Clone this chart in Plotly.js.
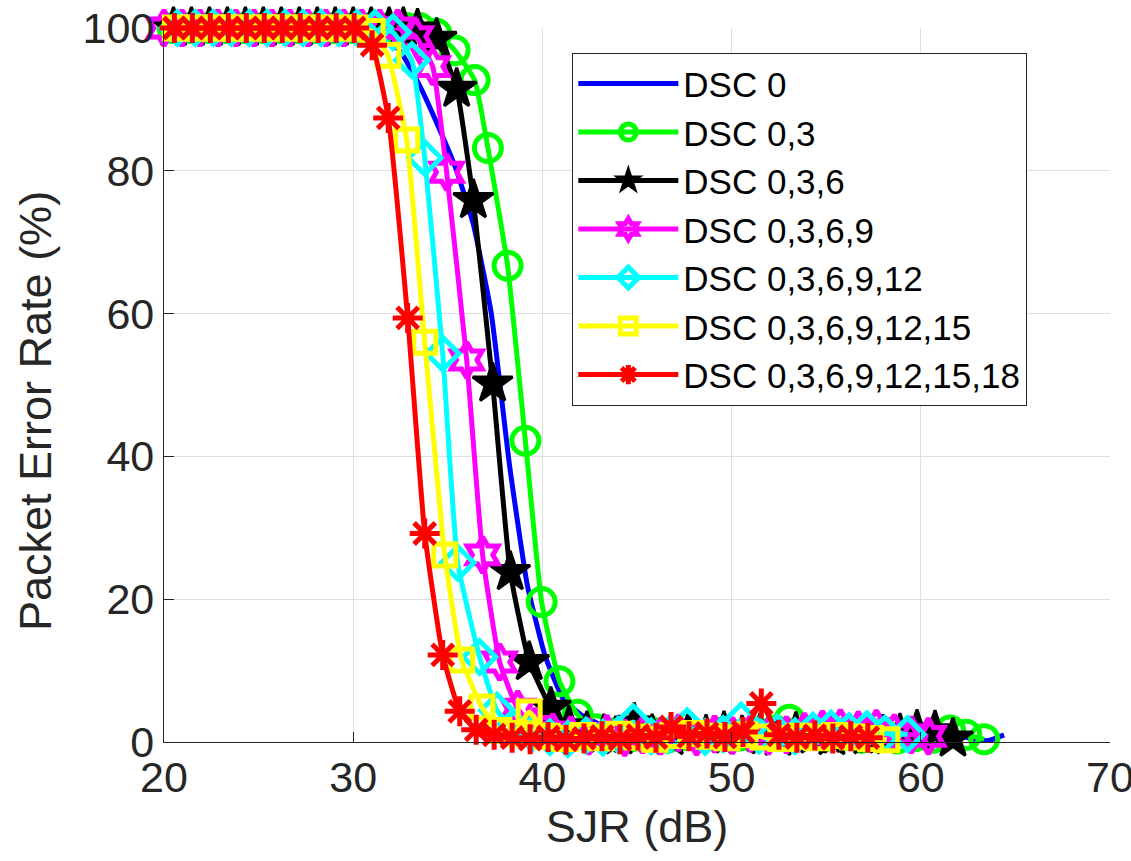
<!DOCTYPE html>
<html>
<head>
<meta charset="utf-8">
<script src="https://cdn.plot.ly/plotly-3.0.1.min.js"></script>
<style>html,body{margin:0;padding:0;background:#fff;}#chart{width:1131px;height:861px;}</style>
</head>
<body>
<div id="chart"></div>
<script>
// ---- Data ----
const seriesNames = ["DSC 0", "DSC 0,3", "DSC 0,3,6", "DSC 0,3,6,9", "DSC 0,3,6,9,12", "DSC 0,3,6,9,12,15", "DSC 0,3,6,9,12,15,18"];

const blueX = [20.4, 21.35, 22.3, 23.25, 24.2, 25.15, 26.1, 27.05, 28.0, 28.95, 29.9, 30.85,
  31.6, 32.55, 33.5, 34.45, 35.4, 36.35, 37.3, 38.25, 39.2, 40.15, 41.1, 42.05, 43.0,
  43.95, 44.9, 45.85, 46.8, 47.75, 48.7, 49.65, 50.6, 51.55, 52.5,
  53.45, 54.4, 55.35, 56.3, 57.25, 58.2, 59.15, 60.1, 61.05, 62.0,
  62.95, 63.6, 64.4];
const blueY = [100, 100, 100, 100, 100, 100, 100, 100, 100, 100, 100, 100,
  99, 96.5, 92, 86.5, 80.5, 72.5, 60, 39, 22, 12, 6, 3.8, 2.5,
  1.6, 1.2, 0.9, 1.3, 0.8, 1.1, 0.7, 1.0, 1.4, 0.9,
  1.1, 0.8, 1.2, 0.9, 0.7, 1.0, 0.8, 1.1, 0.6, 0.9,
  0.3, 0.2, 1.0];

const greenX = [20.45, 21.4, 22.35, 23.3, 24.25, 25.2, 26.15, 27.1, 28.05, 29.0, 29.95, 30.9, 31.85, 32.8, 33.5, 34.4,
  35.36, 36.42, 37.12, 38.16, 39.1, 39.96, 40.9, 41.86, 42.8,
  43.75, 44.7, 45.65, 46.6, 47.55, 48.5, 49.45, 50.4, 51.35, 52.3,
  53.05,
  54.0, 54.95, 55.9, 56.85, 57.8, 58.75, 59.7, 60.65,
  61.55, 62.4, 63.35];
const greenY = [100, 100, 100, 100, 100, 100, 100, 100, 100, 100, 100, 100, 100, 100, 100, 99.2,
  96.9, 92.7, 83.2, 66.7, 42.2, 19.6, 8.5, 3.8, 1.8,
  1.2, 0.8, 1.5, 0.6, 1.0, 0.7, 1.3, 0.9, 1.1, 1.6,
  3.1,
  1.2, 0.8, 1.0, 0.6, 0.9, 0.5, 0.8, 0.6,
  1.6, 1.0, 0.4];

const blackX = [20.5, 21.45, 22.4, 23.35, 24.3, 25.25, 26.2, 27.15, 28.1, 29.05, 30.0, 30.95, 31.9, 32.65, 33.4,
  34.41, 35.47, 36.35, 37.37, 38.3, 39.3, 40.45, 41.4, 42.35,
  43.25, 44.05, 44.85,
  45.8, 46.75, 47.7, 48.65, 49.6, 50.55, 51.5, 52.45, 53.4, 54.35, 55.3, 56.25, 57.15,
  58.0, 58.9, 59.8, 60.75, 61.7];
const blackY = [100, 100, 100, 100, 100, 100, 100, 100, 100, 100, 100, 100, 100, 100, 99.8,
  98.5, 91.5, 75.9, 50.2, 23.8, 11.2, 4.8, 2.2, 1.4,
  1.0, 0.8, 2.6,
  1.0, 0.7, 1.2, 0.9, 1.4, 0.8, 1.1, 0.6, 1.3, 0.9, 0.7, 1.0, 0.8,
  0.9, 1.1, 1.6, 1.5, 0.5];

const magentaX = [20.0, 20.95, 21.9, 22.85, 23.8, 24.75, 25.7, 26.65, 27.6, 28.55, 29.5, 30.45, 31.4, 32.35, 33.3,
  34.2, 34.94, 36.0, 36.84, 37.74, 38.7, 39.6, 40.55, 41.5, 42.45,
  43.4, 44.35, 45.3, 46.25, 47.2, 48.15, 49.1, 50.05, 51.0, 51.95, 52.9, 53.85, 54.8, 55.75, 56.7, 57.65,
  58.6, 59.5, 60.4];
const magentaY = [100, 100, 100, 100, 100, 100, 100, 100, 100, 100, 100, 100, 100, 100, 98.8,
  94.6, 79.8, 53.5, 26.2, 11.2, 4.6, 2.2, 1.4, 1.0, 0.8,
  1.2, 0.6, 1.0, 0.8, 1.3, 0.7, 1.1, 0.9, 1.2, 0.8, 1.0, 1.5, 1.8, 2.0, 1.7, 1.9,
  1.3, 1.0, 0.8];

const cyanX = [20.7, 21.65, 22.6, 23.55, 24.5, 25.45, 26.4, 27.35, 28.3, 29.25, 30.2, 31.15, 32.1,
  33.1, 33.78, 34.73, 35.52, 36.68, 37.6, 38.5, 39.45, 40.4, 41.35, 42.3,
  43.2, 44.0, 44.8,
  45.75, 46.7, 47.65, 48.6, 49.55, 50.5, 51.45, 52.4, 53.35, 54.3, 55.25, 56.2, 57.15, 58.1, 59.3];
const cyanY = [100, 100, 100, 100, 100, 100, 100, 100, 100, 100, 100, 100, 99.4,
  95.5, 81.8, 54.4, 25.1, 11.9, 4.4, 2.0, 1.2, 0.7, 0.4, 0.9,
  0.6, 1.0, 2.8,
  0.8, 1.0, 2.2, 0.7, 1.1, 3.0, 0.9, 1.3, 0.8, 1.6, 1.9, 1.5, 1.8, 1.2, 1.1];

const yellowX = [20.6, 21.55, 22.5, 23.45, 24.4, 25.35, 26.3, 27.25, 28.2, 29.15, 30.1, 31.0,
  31.83, 32.83, 33.78, 34.84, 35.73, 36.8, 37.7, 38.5, 39.3,
  40.25, 41.2, 42.15, 43.1, 44.05, 45.0, 45.95, 46.9, 47.85, 48.8, 49.75, 50.7, 51.65, 52.6, 53.55, 54.5, 55.45, 56.4, 57.35, 58.2];
const yellowY = [100, 100, 100, 100, 100, 100, 100, 100, 100, 100, 100, 99.5,
  96.2, 84.3, 56.0, 26.2, 11.5, 4.9, 1.6, 1.2, 4.2,
  0.8, 0.5, 0.9, 0.6, 1.1, 0.7, 0.4, 0.9, 1.2, 0.8, 0.6, 1.0, 0.7, 0.5, 0.8, 0.6, 0.9, 0.7, 0.5, 0.3];

const redX = [20.55, 21.5, 22.45, 23.4, 24.35, 25.3, 26.25, 27.2, 28.15, 29.1, 30.05, 31.0,
  31.85, 32.88, 33.78, 34.73, 35.63, 36.5,
  37.45, 38.4, 39.35, 40.3, 41.25, 42.2, 43.15, 44.1, 45.05, 46.0,
  46.8, 47.75, 48.7, 49.65, 50.6, 51.57,
  52.5, 53.45, 54.4, 55.35, 56.3, 57.2];
const redY = [100, 100, 100, 100, 100, 100, 100, 100, 100, 100, 100, 97.6,
  87.4, 59.4, 29.2, 12.2, 4.3, 1.7,
  1.0, 0.6, 0.4, 0.7, 0.3, 0.5, 0.8, 0.4, 0.9, 0.6,
  2.1, 0.8, 1.2, 0.7, 1.4, 5.4,
  1.0, 0.6, 0.9, 0.5, 0.8, 0.6];

const xTicks = [20, 30, 40, 50, 60, 70];
const yTicks = [0, 20, 40, 60, 80, 100];
const xTitle = "SJR (dB)";
const yTitle = "Packet Error Rate (%)";

// ---- Styles ----
const FONT = "Liberation Sans, Arial, Helvetica, sans-serif";
const LW = 5;
const styles = [
  {color: "#0000ff", mode: "lines"},
  {color: "#00ff00", mode: "lines+markers", symbol: "circle-open", size: 27},
  {color: "#000000", mode: "lines+markers", symbol: "star", size: 30, fill: true},
  {color: "#ff00ff", mode: "lines+markers", symbol: "hexagram-open", size: 27},
  {color: "#00ffff", mode: "lines+markers", symbol: "diamond-open", size: 25},
  {color: "#ffff00", mode: "lines+markers", symbol: "square-open", size: 22},
  {color: "#ff0000", mode: "lines+markers", symbol: "asterisk-open", size: 25}
];
const xs = [blueX, greenX, blackX, magentaX, cyanX, yellowX, redX];
const ys = [blueY, greenY, blackY, magentaY, cyanY, yellowY, redY];

const traces = seriesNames.map((name, i) => {
  const s = styles[i];
  const t = {
    type: "scatter",
    x: xs[i], y: ys[i], name: name, mode: s.mode,
    line: {color: s.color, width: LW, shape: "spline", smoothing: 0.4},
    cliponaxis: false
  };
  if (s.symbol) {
    t.marker = {symbol: s.symbol, size: s.size, color: s.color,
      line: {color: s.color, width: s.fill ? 3 : LW}};
  }
  return t;
});

const axisCommon = {
  ticks: "inside", ticklen: 10, tickwidth: 1, tickcolor: "#262626",
  showline: true, linecolor: "#262626", linewidth: 1.3,
  showgrid: true, gridcolor: "#dfdfdf", gridwidth: 1,
  zeroline: false, mirror: false,
  ticklabeloverflow: "allow",
  tickfont: {family: FONT, size: 43, color: "#262626"}
};

const layout = {
  width: 1131, height: 861,
  margin: {l: 164, r: 21, t: 28, b: 119},
  paper_bgcolor: "#ffffff", plot_bgcolor: "#ffffff",
  showlegend: true,
  xaxis: Object.assign({}, axisCommon, {
    range: [20, 70], tickvals: xTicks, ticktext: xTicks.map(String),
    ticklabelstandoff: -3,
    title: {text: xTitle, font: {family: FONT, size: 45, color: "#262626"}, standoff: 10}
  }),
  yaxis: Object.assign({}, axisCommon, {
    range: [0, 100], tickvals: yTicks, ticktext: yTicks.map(String)
  }),
  annotations: [{
    text: yTitle, xref: "paper", yref: "paper", x: -0.1353, y: 0.4636,
    xanchor: "center", yanchor: "middle", textangle: -90, showarrow: false,
    font: {family: FONT, size: 45, color: "#262626"}
  }],
  legend: {
    x: 0.4313, y: 0.965, xanchor: "left", yanchor: "top",
    bgcolor: "#ffffff", bordercolor: "#262626", borderwidth: 1.3,
    font: {family: FONT, size: 35, color: "#000000"},
    itemwidth: 100, tracegroupgap: 0
  }
};

Plotly.newPlot("chart", traces, layout, {displayModeBar: false, responsive: false});
</script>
</body>
</html>
